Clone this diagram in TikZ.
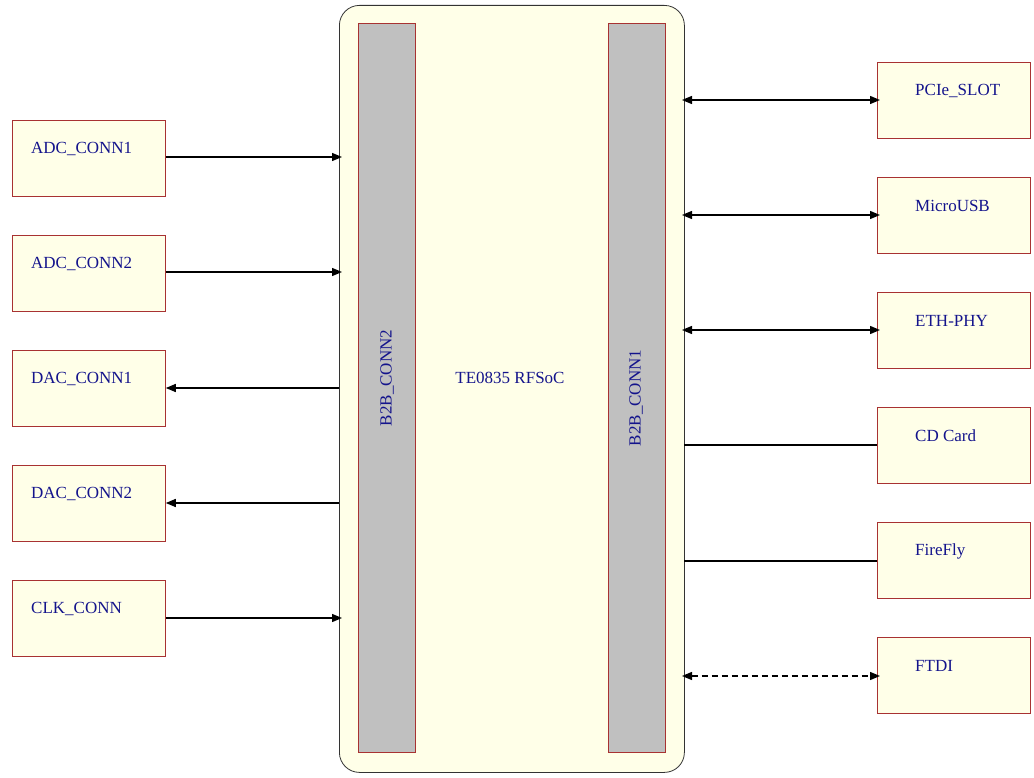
\documentclass[tikz,border=0pt]{standalone}
\usepackage{fontspec}
\setmainfont{Liberation Serif}
\usetikzlibrary{arrows.meta}
\definecolor{boxfill}{HTML}{FFFFE8}
\definecolor{boxline}{HTML}{A83232}
\definecolor{txt}{HTML}{14148C}
\definecolor{conn}{HTML}{C0C0C0}
\begin{document}
\begin{tikzpicture}[x=1pt,y=-1pt,
  every node/.style={font=\fontsize{17}{19}\selectfont, text=txt},
  periph/.style={draw=boxline, fill=boxfill, line width=0.8pt, minimum width=153pt, minimum height=76pt, inner sep=0pt, anchor=north west},
  lbl/.style={anchor=west, inner sep=0pt},
  link/.style={line width=1.4pt, draw=black},
  tip/.style={-{Triangle[length=10pt,width=8pt]}},
  bitip/.style={{Triangle[length=10pt,width=8pt]}-{Triangle[length=10pt,width=8pt]}}
]
\useasboundingbox (0,0) rectangle (1034,778);
% main board
\node[draw=black!80, fill=boxfill, rounded corners=20pt, line width=0.8pt, minimum width=345pt, minimum height=767pt, anchor=north west, inner sep=0pt] (main) at (339,5) {};
\node[draw=boxline, fill=conn, line width=0.8pt, minimum width=57pt, minimum height=729pt, anchor=north west, inner sep=0pt] (b2) at (358,23) {};
\node[draw=boxline, fill=conn, line width=0.8pt, minimum width=57pt, minimum height=729pt, anchor=north west, inner sep=0pt] (b1) at (608,23) {};
\node[rotate=90] (b2t) at (387,378) {B2B\_CONN2};
\node[rotate=90] (b1t) at (636,398) {B2B\_CONN1};
\node (soc) at (510,378) {TE0835 RFSoC};
% left peripherals
\foreach \n/\t/\y in {adc1/ADC\_CONN1/120, adc2/ADC\_CONN2/235, dac1/DAC\_CONN1/350, dac2/DAC\_CONN2/465, clk/CLK\_CONN/580}{
  \node[periph] (\n) at (12,\y) {};
  \node[lbl] (\n t) at (31,\y+29) {\t};
}
% right peripherals
\foreach \n/\t/\y in {pcie/PCIe\_SLOT/62, usb/MicroUSB/177, eth/ETH-PHY/292, cd/CD Card/407, ff/FireFly/522, ftdi/FTDI/637}{
  \node[periph] (\n) at (877,\y) {};
  \node[lbl] (\n t) at (915,\y+29) {\t};
}
% left connections
\coordinate (m1) at (342,157);
\coordinate (m2) at (342,272);
\coordinate (m3) at (339,388);
\coordinate (m4) at (339,503);
\coordinate (m5) at (342,618);
\draw[link,tip] (adc1.east |- m1) -- (m1);
\draw[link,tip] (adc2.east |- m2) -- (m2);
\draw[link,tip] (m3) -- (dac1.east |- m3);
\draw[link,tip] (m4) -- (dac2.east |- m4);
\draw[link,tip] (clk.east |- m5) -- (m5);
% right connections
\coordinate (r1) at (682,100);
\coordinate (r2) at (682,215);
\coordinate (r3) at (682,330);
\coordinate (r4) at (684,445);
\coordinate (r5) at (684,561);
\coordinate (r6) at (682,676);
\coordinate (e1) at (880,100);
\coordinate (e2) at (880,215);
\coordinate (e3) at (880,330);
\coordinate (e6) at (880,676);
\draw[link,bitip] (r1) -- (e1);
\draw[link,bitip] (r2) -- (e2);
\draw[link,bitip] (r3) -- (e3);
\draw[link] (r4) -- (cd.west |- r4);
\draw[link] (r5) -- (ff.west |- r5);
\draw[link,bitip,dashed,dash pattern=on 6pt off 4pt] (r6) -- (e6);
\end{tikzpicture}
\end{document}
